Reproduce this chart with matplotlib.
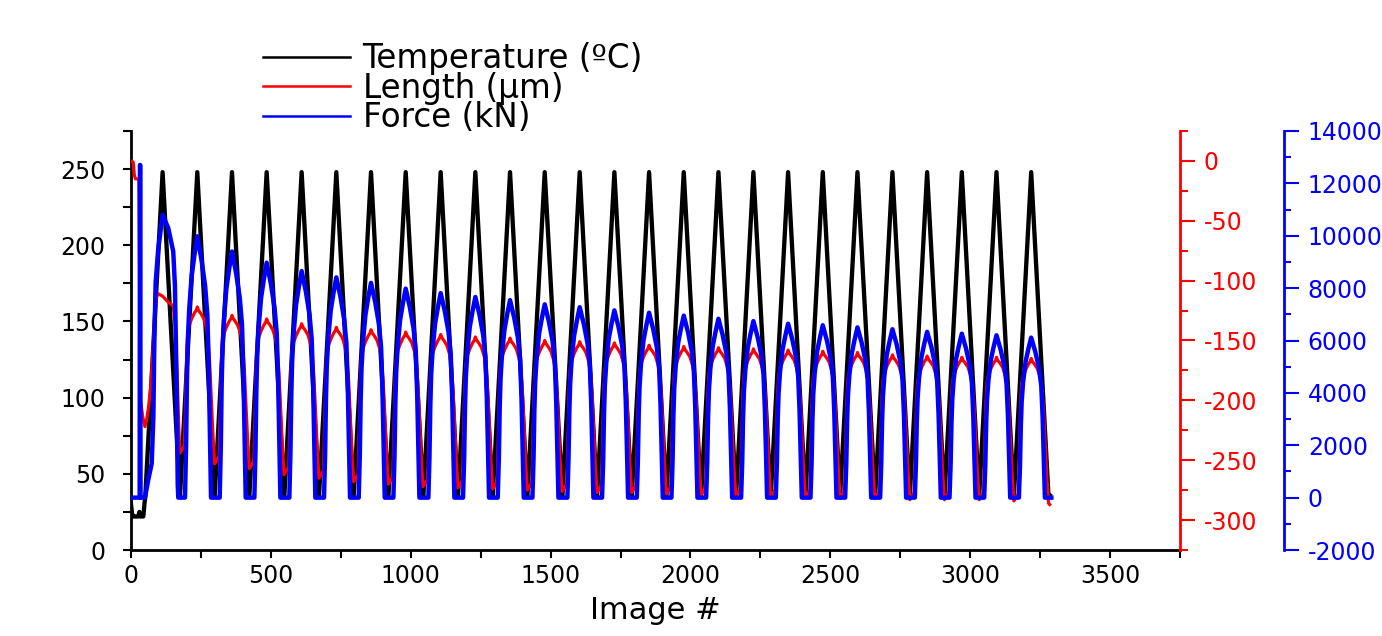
import matplotlib
matplotlib.use('Agg')
import matplotlib.pyplot as plt
from matplotlib.ticker import MultipleLocator

plt.rcParams['font.family'] = ['DejaVu Sans']
plt.rcParams['axes.unicode_minus'] = False

# image # of each temperature peak (26 thermal cycles)
peak_x = [113, 237, 361, 485, 610, 734, 858, 982, 1107, 1231, 1355, 1479, 1604,
          1728, 1852, 1976, 2100, 2225, 2349, 2473, 2597, 2722, 2846, 2970, 3094, 3218]

# temperature (C)
temp_peak = [248, 248, 248, 248, 248, 248, 248, 248, 248, 248, 248, 248, 248,
             248, 248, 248, 248, 248, 248, 248, 248, 248, 248, 248, 248, 248]
temp_low = 35
temp_start_x = [0, 5, 10, 26, 30, 34, 44, 48]
temp_start_y = [30, 22, 22, 22, 25, 22, 22, 30]
temp_end_x = [3280, 3284]
temp_end_y = [35, 36]
temp_dt = [-62, 0]
temp_frac = [0, 1]

# force (kN): peak of each cycle, first cycle read point by point
force_peak = [10800, 9980, 9400, 8970, 8650, 8410, 8200, 7980, 7810, 7660, 7540, 7380, 7270,
              7150, 7060, 6950, 6830, 6740, 6640, 6580, 6500, 6430, 6330, 6260, 6200, 6110]
force_start_x = [0, 31, 32, 33, 34, 50, 62, 74, 80, 83, 88, 97, 113, 133, 151, 157, 163, 167, 169]
force_start_y = [0, 0, 12700, 12700, 0, 0, 700, 1300, 3100, 5650, 8200, 9450, 10800,
                 10300, 9400, 8100, 4300, 500, 0]
force_end_x = [3290]
force_end_y = [0]
force_dt = [-44, -40, -37, -34, -29, -20, -10, 0, 15, 28, 36, 41, 45, 49]
force_frac = [0, 0.2, 0.45, 0.6, 0.72, 0.85, 0.93, 1, 0.91, 0.81, 0.7, 0.5, 0.25, 0]

# length (um): peak of each cycle and trough after each cycle
length_peak = [-113, -122, -129, -132, -136, -139, -141, -143, -145, -147, -148, -150, -151,
               -152, -154, -155, -156, -157, -158, -159, -160, -162, -163, -164, -164, -165]
length_trough = [-244, -253, -257, -262, -265, -268, -270, -272, -273, -274, -275, -276, -277,
                 -277, -278, -279, -280, -281, -281, -282, -282, -283, -283, -283, -284, -286]
length_start_x = [0, 8, 12, 16, 28, 34, 42, 50, 56, 62, 70, 78, 86, 92, 98, 113, 133, 151,
                  158, 165, 171, 175]
length_start_y = [0, -1, -12, -15, -15, -200, -214, -222, -216, -207, -190, -160, -125, -113,
                  -111, -113, -118, -121, -135, -180, -225, -244]
length_end_x = [3284]
length_end_y = [-287]
length_dt = [-46, -42, -38, -34, -28, -20, -10, -3, 0, 4, 12, 22, 32, 38, 44, 50, 56, 62]
length_frac = [0.05, 0.35, 0.68, 0.82, 0.88, 0.92, 0.96, 0.98, 1.0, 0.98, 0.96, 0.93, 0.87,
               0.8, 0.65, 0.42, 0.18, 0]


def build(start_x, start_y, dts, fracs, peaks, lows_before, lows_after, end_x, end_y, first):
    xs = list(start_x)
    ys = list(start_y)
    for k in range(first, len(peak_x)):
        for d, f in zip(dts, fracs):
            lo = lows_before[k] if d < 0 else lows_after[k]
            xs.append(peak_x[k] + d)
            ys.append(lo + f * (peaks[k] - lo))
    return xs + end_x, ys + end_y


n = len(peak_x)
tx, ty = build(temp_start_x, temp_start_y, temp_dt, temp_frac, temp_peak,
               [temp_low] * n, [temp_low] * n, temp_end_x, temp_end_y, 0)
fx, fy = build(force_start_x, force_start_y, force_dt, force_frac, force_peak,
               [0] * n, [0] * n, force_end_x, force_end_y, 1)
lx, ly = build(length_start_x, length_start_y, length_dt, length_frac, length_peak,
               [None] + length_trough[:-1], length_trough, length_end_x, length_end_y, 1)

fig = plt.figure(figsize=(13.82, 6.36), dpi=100)
ax = fig.add_axes([131 / 1382, 86 / 636, 1049 / 1382, 419 / 636])
ax2 = ax.twinx()
ax3 = ax.twinx()

l1, = ax.plot(tx, ty, color='black', lw=3.1, zorder=1, label='Temperature (ºC)')
l2, = ax2.plot(lx, ly, color='red', lw=2.3, zorder=2, label='Length (\u03bcm)')
l3, = ax3.plot(fx, fy, color='blue', lw=3.2, zorder=3, label='Force (kN)')

ax.set_xlim(0, 3750)
ax.set_ylim(0, 275)
ax2.set_ylim(-325, 25)
ax3.set_ylim(-2000, 14000)

ax.xaxis.set_major_locator(MultipleLocator(500))
ax.xaxis.set_minor_locator(MultipleLocator(250))
ax.yaxis.set_major_locator(MultipleLocator(50))
ax.yaxis.set_minor_locator(MultipleLocator(25))
ax2.yaxis.set_major_locator(MultipleLocator(50))
ax2.yaxis.set_minor_locator(MultipleLocator(25))
ax3.yaxis.set_major_locator(MultipleLocator(2000))
ax3.yaxis.set_minor_locator(MultipleLocator(1000))

for a in (ax, ax2, ax3):
    for s in a.spines.values():
        s.set_visible(False)
        s.set_linewidth(2)
ax.spines['left'].set_visible(True)
ax.spines['bottom'].set_visible(True)
ax2.spines['right'].set_visible(True)
ax2.spines['right'].set_color('red')
ax3.spines['right'].set_visible(True)
ax3.spines['right'].set_color('blue')
ax3.spines['right'].set_position(('outward', 75))

fs = 17
ax.tick_params(axis='x', which='both', direction='out', length=6, width=1.5,
               labelsize=fs, pad=4)
ax.tick_params(axis='y', which='both', direction='out', length=5.5, width=1.5,
               labelsize=fs, pad=13)
ax2.tick_params(axis='y', which='major', length=11, width=1.5, color='red',
                labelcolor='red', labelsize=fs, pad=6)
ax2.tick_params(axis='y', which='minor', length=6, width=1.5, color='red')
ax3.tick_params(axis='y', which='major', length=11, width=1.5, color='blue',
                labelcolor='blue', labelsize=fs, pad=6)
ax3.tick_params(axis='y', which='minor', length=5, width=1.5, color='blue')

ax.set_xlabel('Image #', fontsize=22, labelpad=6)

leg = ax.legend(handles=[l1, l2, l3], loc='upper left', frameon=False, fontsize=23.5,
                bbox_to_anchor=(263 / 1382, 1 - 42 / 636), bbox_transform=fig.transFigure,
                borderpad=0, borderaxespad=0, handlelength=2.68, handletextpad=0.37,
                labelspacing=-0.1)
for h in leg.get_lines():
    h.set_linewidth(1.8)

fig.savefig('out.png', dpi=100)
